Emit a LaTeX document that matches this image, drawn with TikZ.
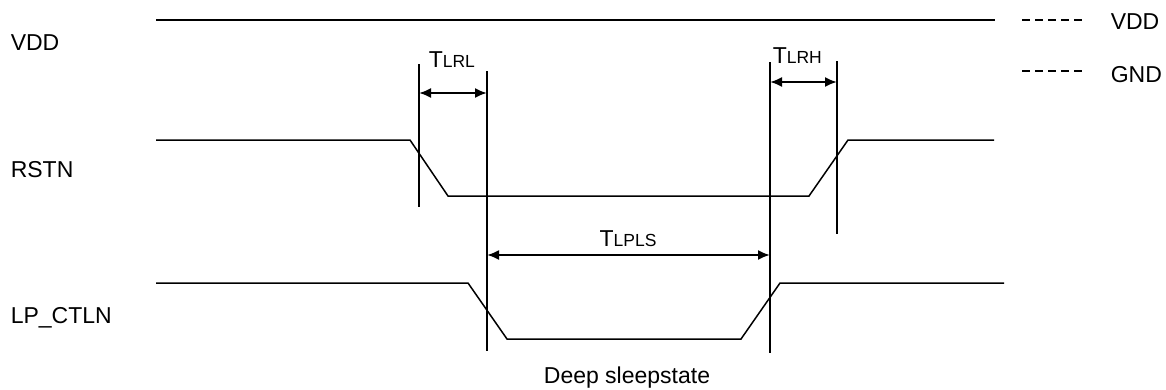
\documentclass[tikz,border=0pt]{standalone}
\usepackage{fontspec}
\setmainfont{Liberation Sans}
\usetikzlibrary{arrows.meta}
\newcommand{\tname}[1]{T{\fontsize{17.5}{20}\selectfont #1}}

\begin{document}
\begin{tikzpicture}[x=1pt, y=-1pt, line width=1.5pt,
    every node/.style={font=\fontsize{23}{27}\selectfont, inner sep=0pt},
    dim/.style={{Latex[length=12pt,width=10pt]}-{Latex[length=12pt,width=10pt]}, line width=2pt}]

    \useasboundingbox (0,0) rectangle (1166,389);

    % Signal names
    \node[anchor=base west] (vddname) at (10,50) {VDD};
    \node[anchor=base west] (rstnname) at (10,177) {RSTN};
    \node[anchor=base west] (lpname) at (10,323) {LP\_CTLN};

    % Legend
    \draw[line width=1.7pt, dash pattern=on 8pt off 5pt] (1022,20) -- (1084,20);
    \node[anchor=base west] (vddkey) at (1110,29) {VDD};
    \draw[line width=1.7pt, dash pattern=on 8pt off 5pt] (1022,71) -- (1084,71);
    \node[anchor=base west] (gndkey) at (1110,82) {GND};

    % VDD rail
    \draw (156,20) -- (995,20);

    % RSTN waveform
    \draw (156,140) -- (410,140) -- (448,196) -- (809,196) -- (848,140) -- (994,140);

    % LP_CTLN waveform
    \draw (156,283) -- (468,283) -- (507,339) -- (741,339) -- (780,283) -- (1004,283);

    % Timing markers
    \draw (419,64) -- (419,207);
    \draw (487,71) -- (487,351);
    \draw (770,62) -- (770,353);
    \draw (837,61) -- (837,234);

    % Arrow ends on the markers
    \coordinate (lrlA) at (419,93);
    \coordinate (lrlB) at (487,93);
    \coordinate (lrhA) at (770,82);
    \coordinate (lrhB) at (837,82);
    \coordinate (lplsA) at (487,255);
    \coordinate (lplsB) at (770,255);

    % Timing intervals
    \draw[dim] (lrlA) -- (lrlB);
    \node[anchor=base west] (tlrl) at (428,67) {\tname{LRL}};
    \draw[dim] (lrhA) -- (lrhB);
    \node[anchor=base west] (tlrh) at (772,63) {\tname{LRH}};
    \draw[dim] (lplsA) -- (lplsB);
    \node[anchor=base] (tlpls) at (628,246) {\tname{LPLS}};

    % State label
    \node[anchor=base] (sleep) at (627,383) {Deep sleepstate};

\end{tikzpicture}
\end{document}
